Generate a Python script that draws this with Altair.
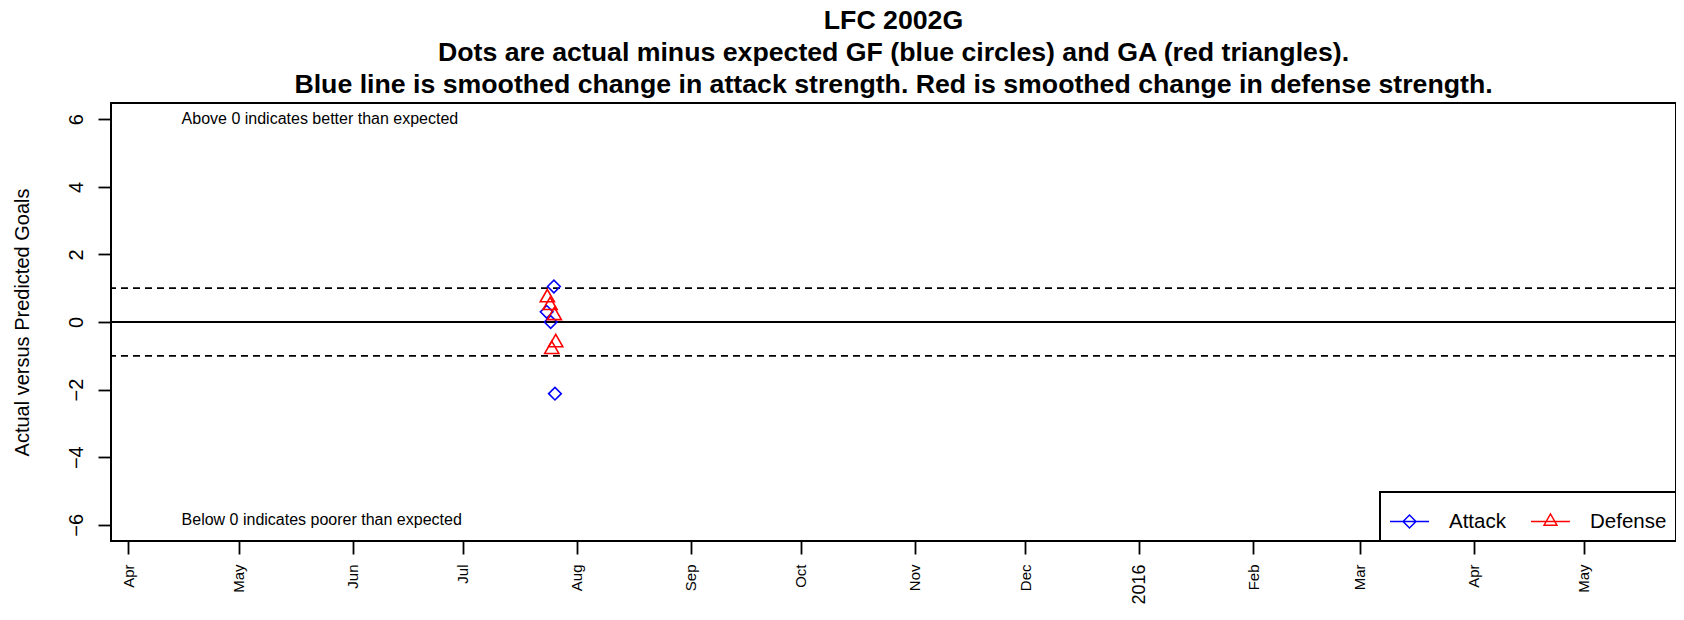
import altair as alt
import pandas as pd

# ---- data ----
attack_dates = ["2015-07-25T19:00:00Z", "2015-07-23T20:00:00Z",
                "2015-07-24T22:00:00Z", "2015-07-26T02:00:00Z"]
attack_values = [1.05, 0.30, 0.00, -2.12]

defense_dates = ["2015-07-24T00:00:00Z", "2015-07-24T18:00:00Z",
                 "2015-07-25T22:00:00Z", "2015-07-26T07:00:00Z",
                 "2015-07-25T05:00:00Z"]
defense_values = [0.78, 0.55, 0.25, -0.55, -0.75]

series_names = ["Attack", "Defense"]
series_colors = ["#0000FF", "#FF0000"]

ref_solid = [0]
ref_dashed = [-1, 1]

note_texts = ["Above 0 indicates better than expected",
              "Below 0 indicates poorer than expected"]
note_dates = ["2015-04-15T12:00:00Z", "2015-04-15T12:00:00Z"]
note_values = [6, -5.87]

title_lines = [
    "LFC 2002G",
    "Dots are actual minus expected GF (blue circles) and GA (red triangles).",
    "Blue line is smoothed change in attack strength. Red is smoothed change in defense strength.",
]
y_title = "Actual versus Predicted Goals"
y_ticks = [-6, -4, -2, 0, 2, 4, 6]
x_tick_months = [(2015, 4), (2015, 5), (2015, 6), (2015, 7), (2015, 8), (2015, 9),
                 (2015, 10), (2015, 11), (2015, 12), (2016, 1), (2016, 2), (2016, 3),
                 (2016, 4), (2016, 5)]

FONT = "Liberation Sans"

attack_df = pd.DataFrame({"date": attack_dates, "value": attack_values})
defense_df = pd.DataFrame({"date": defense_dates, "value": defense_values})
solid_df = pd.DataFrame({"v": ref_solid})
dashed_df = pd.DataFrame({"v": ref_dashed})
note_df = pd.DataFrame({"date": note_dates, "value": note_values, "label": note_texts})
legend_df = pd.DataFrame({"series": series_names})

x_scale = alt.Scale(
    domain=[alt.DateTime(year=2015, month=3, date=27, hours=7, utc=True),
            alt.DateTime(year=2016, month=5, date=26, hours=2, utc=True)],
    nice=False,
)
y_scale = alt.Scale(domain=[-6.48, 6.48], nice=False, zero=False)

x_axis = alt.Axis(
    title=None,
    values=[alt.DateTime(year=y, month=m, date=1, utc=True) for y, m in x_tick_months],
    labelExpr="utcmonth(datum.value) == 0 ? utcFormat(datum.value, '%Y') : utcFormat(datum.value, '%b')",
    labelAngle=270,
    labelAlign="right",
    labelBaseline="middle",
    labelPadding=10,
    labelFontSize={"condition": {"test": "utcmonth(datum.value) == 0", "value": 18}, "value": 15},
    labelOverlap=False,
    labelFlush=False,
    labelBound=False,
    tickSize=13,
    tickWidth=1.8,
    tickColor="black",
    domain=False,
    grid=False,
    labelColor="black",
    labelFont=FONT,
)
y_axis = alt.Axis(
    title=y_title,
    values=y_ticks,
    labelAngle=270,
    labelAlign="center",
    labelBaseline="alphabetic",
    labelPadding=16,
    labelFontSize=20,
    labelFont=FONT,
    labelColor="black",
    labelOverlap=False,
    labelFlush=False,
    tickSize=13,
    tickWidth=1.8,
    tickColor="black",
    domain=False,
    grid=False,
    titleFont=FONT,
    titleFontSize=20,
    titleFontWeight="normal",
    titleColor="black",
    titleAngle=270,
    titleAlign="center",
    titleBaseline="middle",
    titleX=-89,
    titleY=219,
)

solid = alt.Chart(solid_df).mark_rule(color="black", strokeWidth=1.8).encode(
    y=alt.Y("v:Q", scale=y_scale, axis=y_axis)
)
dashed = alt.Chart(dashed_df).mark_rule(color="black", strokeWidth=1.8, strokeDash=[7, 5]).encode(
    y=alt.Y("v:Q", scale=y_scale)
)

attack_pts = alt.Chart(attack_df).mark_point(
    shape="diamond", filled=False, color=series_colors[0], size=160, strokeWidth=1.6, opacity=1
).encode(
    x=alt.X("date:T", scale=x_scale, axis=x_axis),
    y=alt.Y("value:Q", scale=y_scale),
)
defense_pts = alt.Chart(defense_df).mark_point(
    shape="triangle-up", filled=False, color=series_colors[1], size=200, strokeWidth=1.6, opacity=1
).encode(
    x=alt.X("date:T", scale=x_scale),
    y=alt.Y("value:Q", scale=y_scale),
)

notes = alt.Chart(note_df).mark_text(
    align="left", baseline="middle", fontSize=16, font=FONT, color="black"
).encode(
    x=alt.X("date:T", scale=x_scale),
    y=alt.Y("value:Q", scale=y_scale),
    text="label:N",
)

legend_paths = [
    "M-1,0L1,0M-0.33,0L0,-0.33L0.33,0L0,0.33Z",
    "M-1,0L1,0M-0.33,0.19L0.33,0.19L0,-0.39Z",
]
legend_opts = dict(
    title=None,
    orient="bottom-right",
    direction="horizontal",
    offset=0,
    padding=9,
    strokeColor="black",
    fillColor="white",
    labelFontSize=20.5,
    labelFont=FONT,
    labelColor="black",
    symbolSize=1521,
    symbolStrokeWidth=1.5,
    labelOffset=19,
    columnPadding=22,
)
legend_layer = alt.Chart(legend_df).transform_filter("false").mark_point(
    filled=False, strokeWidth=1.5, opacity=1
).encode(
    color=alt.Color(
        "series:N",
        scale=alt.Scale(domain=series_names, range=series_colors),
        legend=alt.Legend(**legend_opts),
    ),
    shape=alt.Shape(
        "series:N",
        scale=alt.Scale(domain=series_names, range=legend_paths),
        legend=alt.Legend(**legend_opts),
    ),
)

chart = alt.layer(solid, dashed, attack_pts, defense_pts, notes, legend_layer).properties(
    width=1565,
    height=438,
    title=alt.Title(
        text=title_lines,
        fontSize=26.7,
        font=FONT,
        fontWeight="bold",
        color="black",
        anchor="middle",
        lineHeight=32,
        offset=4,
    ),
    padding={"left": 103, "top": 95, "right": 0, "bottom": 65},
    autosize=alt.AutoSizeParams(type="none"),
).configure_view(
    stroke="black", strokeWidth=2
).configure_legend(
    strokeWidth=2
)

chart.save("out.html", embed_options={"renderer": "svg", "actions": False})
